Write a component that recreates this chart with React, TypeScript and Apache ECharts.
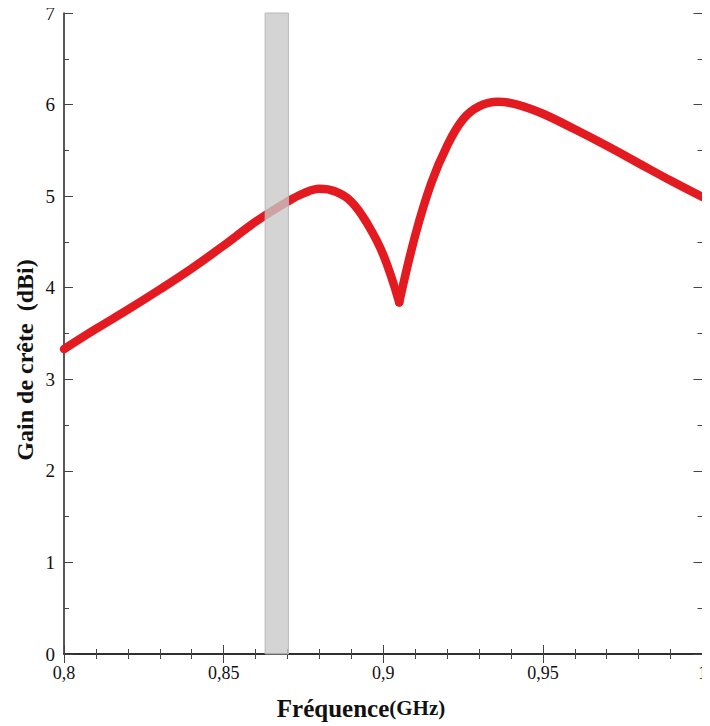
import React, { useEffect, useRef } from "react";
import * as echarts from "echarts";

const freqGHz = [
  0.8, 0.81, 0.82, 0.83, 0.84, 0.85, 0.86, 0.87, 0.875, 0.88, 0.885,
  0.89, 0.895, 0.9, 0.905,
  0.91, 0.915, 0.92, 0.925, 0.93, 0.936, 0.942, 0.95, 0.96, 0.97, 0.98, 0.99, 1.0,
];
const gainDBi = [
  3.33, 3.55, 3.76, 3.98, 4.21, 4.46, 4.72, 4.94, 5.03, 5.08, 5.05,
  4.94, 4.7, 4.36, 3.84,
  4.57, 5.14, 5.55, 5.84, 5.98, 6.03, 6.0, 5.9, 5.73, 5.55, 5.36, 5.17, 4.99,
];
const bandGHz = [0.863, 0.8703];
const xTicks = [0.8, 0.85, 0.9, 0.95, 1];
const yTicks = [0, 1, 2, 3, 4, 5, 6, 7];
const xTitle = "Fréquence";
const xUnit = "(GHz)";
const yTitle = "Gain de crête  (dBi)";

const fmt = (v: number) => String(+v.toFixed(3)).replace(".", ",");

export default function App() {
  const ref = useRef<HTMLDivElement>(null);
  useEffect(() => {
    if (!ref.current) return;
    const chart = echarts.init(ref.current, null, { renderer: "svg" });
    const font = "Liberation Serif";
    const axisLine = { show: true, lineStyle: { color: "#222", width: 1.5 } };
    const baseX = {
      type: "value",
      min: xTicks[0],
      max: xTicks[xTicks.length - 1],
      interval: 0.05,
      axisLine,
      axisTick: { show: true, inside: true, length: 9, lineStyle: { color: "#444", width: 1 } },
      minorTick: { show: true, splitNumber: 5, length: 5, lineStyle: { color: "#444", width: 1 } },
      splitLine: { show: false },
    };
    const baseY = {
      type: "value",
      min: yTicks[0],
      max: yTicks[yTicks.length - 1],
      interval: 1,
      axisLine,
      axisTick: { show: true, inside: true, length: 9, lineStyle: { color: "#444", width: 1 } },
      minorTick: { show: true, splitNumber: 2, length: 5, lineStyle: { color: "#444", width: 1 } },
      splitLine: { show: false },
    };
    const pts = freqGHz.map((f, i) => [f, gainDBi[i]]);
    // split at the resonance dip so that the notch stays sharp
    let tip = 0;
    gainDBi.forEach((g, i) => {
      if (i > 0 && i < gainDBi.length - 1 && g < gainDBi[i - 1] && g < gainDBi[i + 1]) tip = i;
    });
    const lineStyle = { color: "#e31b21", width: 8.5, cap: "round", join: "round" };
    chart.setOption({
      animation: false,
      backgroundColor: "#fff",
      grid: { left: 64, right: 4, top: 13, bottom: 72, containLabel: false },
      xAxis: [
        {
          ...baseX,
          position: "bottom",
          axisLabel: { fontFamily: font, fontSize: 18, color: "#111", margin: 10, formatter: fmt },
        },
        { ...baseX, position: "top", axisLabel: { show: false } },
      ],
      yAxis: [
        {
          ...baseY,
          position: "left",
          axisLabel: { fontFamily: font, fontSize: 19, color: "#111", margin: 9, formatter: fmt },
        },
        { ...baseY, position: "right", axisLabel: { show: false } },
      ],
      graphic: [
        {
          type: "text",
          x: 361,
          y: 708,
          style: {
            text: `{a|${xTitle}}{b|${xUnit}}`,
            align: "center",
            verticalAlign: "middle",
            rich: {
              a: { fontFamily: font, fontWeight: "bold", fontSize: 25, fill: "#111" },
              b: { fontFamily: font, fontWeight: "bold", fontSize: 21, fill: "#111" },
            },
          },
        },
        {
          type: "text",
          x: 25,
          y: 360,
          rotation: Math.PI / 2,
          style: {
            text: yTitle,
            align: "center",
            verticalAlign: "middle",
            fontFamily: font,
            fontWeight: "bold",
            fontSize: 24,
            fill: "#111",
          },
        },
      ],
      series: [
        {
          type: "line",
          data: pts.slice(0, tip + 1),
          smooth: 0.4,
          showSymbol: false,
          z: 2,
          lineStyle,
        },
        {
          type: "line",
          data: pts.slice(tip),
          smooth: 0.4,
          showSymbol: false,
          z: 2,
          lineStyle,
        },
        {
          type: "line",
          data: [],
          z: 5,
          markArea: {
            silent: true,
            z: 10,
            itemStyle: { color: "rgba(200,200,200,0.78)", borderColor: "rgba(180,180,180,0.9)", borderWidth: 1 },
            data: [[{ xAxis: bandGHz[0] }, { xAxis: bandGHz[1] }]],
          },
        },
      ],
    });
    return () => chart.dispose();
  }, []);
  return <div ref={ref} style={{ width: 710, height: 726, marginLeft: -8, marginTop: -8 }} />;
}
